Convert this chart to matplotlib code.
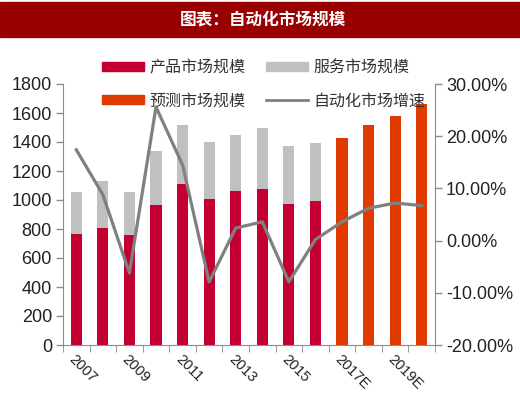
import numpy as np
import matplotlib.pyplot as plt
from matplotlib.patches import Rectangle
from matplotlib.lines import Line2D

plt.rcParams['font.family'] = ['Liberation Sans', 'Noto Sans CJK SC', 'DejaVu Sans']

years = ['2007', '2008', '2009', '2010', '2011', '2012', '2013', '2014', '2015', '2016',
         '2017E', '2018E', '2019E', '2020E']
product = [765, 810, 760, 965, 1110, 1010, 1065, 1075, 975, 990]
total = [1055, 1130, 1055, 1340, 1520, 1400, 1445, 1495, 1375, 1395]
service = [t - p for t, p in zip(total, product)]
forecast = [1430, 1515, 1580, 1665]
growth = [17.4, 8.8, -6.2, 25.6, 14.5, -7.9, 2.4, 3.6, -7.9, 0.2, 3.6, 6.2, 7.2, 6.7]

red = '#C40032'
orange = '#E03A00'
grey = '#C0C0C0'
line_grey = '#808080'
axis_grey = '#8C8C8C'

fig = plt.figure(figsize=(5.2, 3.94), dpi=100)

# title band
fig.patches.append(Rectangle((0, 1 - 37 / 394), 1, 35 / 394, transform=fig.transFigure,
                             color='#990000', zorder=0))
fig.text(0.505, 1 - 19 / 394, '图表：自动化市场规模', color='white', fontsize=12,
         ha='center', va='center', family=['Noto Sans CJK SC'], weight='bold')

ax = fig.add_axes([63 / 520, 1 - 345 / 394, (435 - 63) / 520, (345 - 84) / 394])
x = np.arange(len(years))
xh = x[:10]
xf = x[10:]
w = 0.42

ax.bar(xh, product, w, color=red, zorder=2)
ax.bar(xh, service, w, bottom=product, color=grey, zorder=2)
ax.bar(xf, forecast, w, color=orange, zorder=2)

ax.set_ylim(0, 1800)
ax.set_yticks(range(0, 1801, 200))
ax.set_xlim(-0.5, len(years) - 0.5)

ax2 = ax.twinx()
ax2.plot(x, growth, color=line_grey, lw=2.3, zorder=3)
ax2.set_ylim(-20, 30)
ax2.set_yticks(range(-20, 31, 10))
ax2.set_yticklabels(['%.2f%%' % v for v in range(-20, 31, 10)])

for a in (ax, ax2):
    a.spines['top'].set_visible(False)
    for s in ('left', 'right', 'bottom'):
        a.spines[s].set_color(axis_grey)
    a.tick_params(axis='y', colors=axis_grey, labelcolor='#222222', labelsize=13, length=5,
                  width=1, pad=3)
ax.spines['right'].set_visible(False)
ax2.spines['left'].set_visible(False)
ax2.spines['bottom'].set_visible(False)

ax.set_xticks(x[::2])
ax.set_xticklabels(years[::2], rotation=-45, ha='left', va='top', rotation_mode='anchor',
                   fontsize=10.5, color='#222222')
ax.set_xticks(np.arange(-0.5, len(years), 1.0), minor=True)
ax.tick_params(axis='x', which='major', length=0, pad=5)
ax.tick_params(axis='x', which='minor', length=5, color=axis_grey)

h_prod = Rectangle((0, 0), 1, 1, color=red)
h_serv = Rectangle((0, 0), 1, 1, color=grey)
h_fore = Rectangle((0, 0), 1, 1, color=orange)
h_grow = Line2D([], [], color=line_grey, lw=2)
handles = [h_prod, h_fore, h_serv, h_grow]
labels = ['产品市场规模', '预测市场规模', '服务市场规模', '自动化市场增速']
leg = fig.legend(handles, labels, ncol=2, loc='upper left', bbox_to_anchor=(88 / 520, 1 - 45 / 394),
                 frameon=False, prop={'family': 'Noto Sans CJK SC', 'size': 11.5},
                 handlelength=2.6, handleheight=0.5, columnspacing=1.3, labelspacing=1.0,
                 handletextpad=0.35)
for t in leg.get_texts():
    t.set_color('#333333')

fig.savefig('out.png', dpi=100)
